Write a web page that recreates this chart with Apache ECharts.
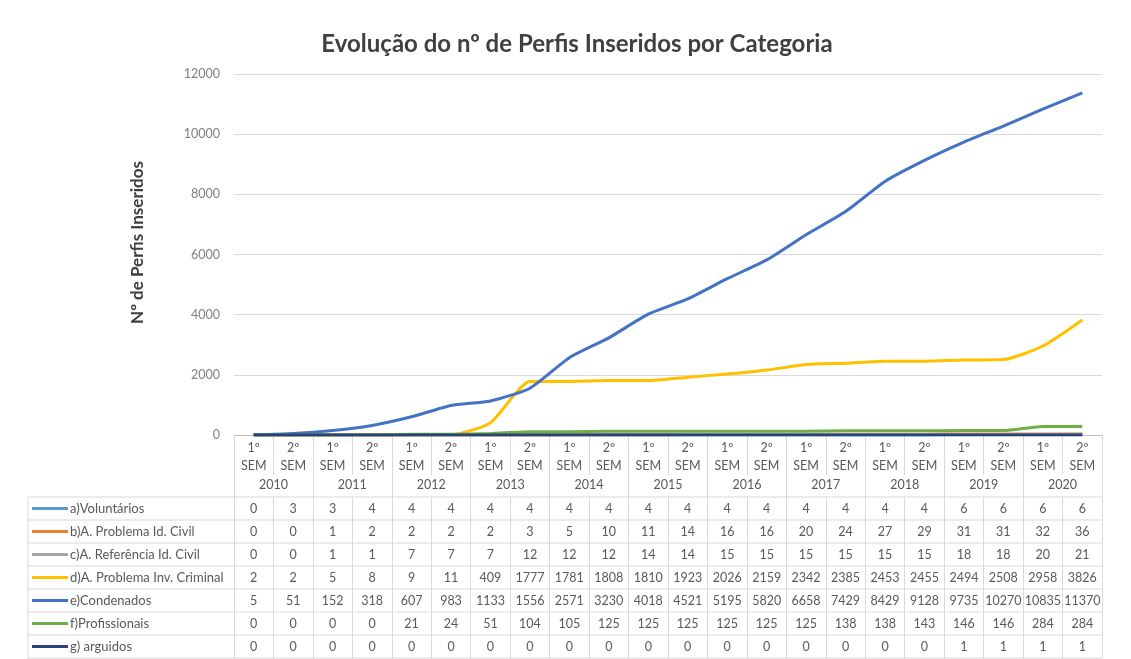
<!DOCTYPE html>
<html><head><meta charset="utf-8">
<script src="https://cdn.jsdelivr.net/npm/echarts@6/dist/echarts.min.js"></script>
<style>html,body{margin:0;padding:0;background:#fff}#c{width:1131px;height:659px}</style>
</head><body><div id="c"></div>
<script>
const years = ['2010','2011','2012','2013','2014','2015','2016','2017','2018','2019','2020'];
const semLabels = ['1º\nSEM','2º\nSEM'];
const categories = years.flatMap(y => [y + '-1', y + '-2']);
const yTicks = { min: 0, max: 12000, interval: 2000 };

const seriesNames = ['a)Voluntários','b)A. Problema Id. Civil','c)A. Referência Id. Civil','d)A. Problema Inv. Criminal','e)Condenados','f)Profissionais','g) arguidos'];
const voluntarios = [0,3,3,4,4,4,4,4,4,4,4,4,4,4,4,4,4,4,6,6,6,6];
const probIdCivil = [0,0,1,2,2,2,2,3,5,10,11,14,16,16,20,24,27,29,31,31,32,36];
const refIdCivil = [0,0,1,1,7,7,7,12,12,12,14,14,15,15,15,15,15,15,18,18,20,21];
const probInvCriminal = [2,2,5,8,9,11,409,1777,1781,1808,1810,1923,2026,2159,2342,2385,2453,2455,2494,2508,2958,3826];
const condenados = [5,51,152,318,607,983,1133,1556,2571,3230,4018,4521,5195,5820,6658,7429,8429,9128,9735,10270,10835,11370];
const profissionais = [0,0,0,0,21,24,51,104,105,125,125,125,125,125,125,138,138,143,146,146,284,284];
const arguidos = [0,0,0,0,0,0,0,0,0,0,0,0,0,0,0,0,0,0,1,1,1,1];
const allSeries = [voluntarios, probIdCivil, refIdCivil, probInvCriminal, condenados, profissionais, arguidos];
const colors = ['#5B9BD5','#ED7D31','#A5A5A5','#FFC000','#4472C4','#70AD47','#264478'];

const FONT = 'Lato';
const TXT = '#595959';
const LINE = '#D9D9D9';
const FS = 12.5;
const GRID = { left: 234, right: 29, top: 74, bottom: 224 };
const ROW_H = 23;
const TABLE_TOP_OFF = 62;

const xAxes = [
  { type: 'category', data: categories, gridIndex: 0, position: 'bottom', boundaryGap: true,
    axisLine: { show: true, lineStyle: { color: '#BFBFBF', width: 1 } },
    axisTick: { show: true, interval: 0, length: 40, lineStyle: { color: LINE } },
    axisLabel: { interval: 0, margin: 4, color: TXT, fontFamily: FONT, fontSize: FS, lineHeight: 18,
      formatter: (v, i) => semLabels[i % 2] } },
  { type: 'category', data: years, gridIndex: 0, position: 'bottom', offset: 40, boundaryGap: true,
    axisLine: { show: false },
    axisTick: { show: true, interval: 0, length: 22, lineStyle: { color: LINE } },
    axisLabel: { interval: 0, margin: 3, color: TXT, fontFamily: FONT, fontSize: FS } }
];
allSeries.forEach((vals, k) => {
  xAxes.push({ type: 'category', data: categories, gridIndex: 0, position: 'bottom',
    offset: TABLE_TOP_OFF + ROW_H * k, boundaryGap: true,
    axisLine: { show: false },
    axisTick: { show: true, interval: 0, length: ROW_H, lineStyle: { color: LINE } },
    axisLabel: { interval: 0, margin: 5, color: TXT, fontFamily: FONT, fontSize: FS,
      formatter: (v, i) => String(vals[i]) } });
});

const chart = echarts.init(document.getElementById('c'), null, { renderer: 'canvas' });
const gridBottomY = 659 - GRID.bottom;
const tableTop = gridBottomY + TABLE_TOP_OFF;
const graphics = [];
for (let k = 0; k <= allSeries.length; k++) {
  graphics.push({ type: 'line', silent: true, z: 0,
    shape: { x1: 28, y1: tableTop + ROW_H * k, x2: 1131 - GRID.right, y2: tableTop + ROW_H * k },
    style: { stroke: LINE, lineWidth: 1 } });
}
graphics.push({ type: 'line', silent: true, shape: { x1: 28, y1: tableTop, x2: 28, y2: 659 }, style: { stroke: LINE, lineWidth: 1 } });
seriesNames.forEach((name, k) => {
  const cy = tableTop + ROW_H * k + ROW_H / 2;
  graphics.push({ type: 'line', silent: true, shape: { x1: 32, y1: cy, x2: 68, y2: cy },
    style: { stroke: colors[k], lineWidth: 3 } });
  graphics.push({ type: 'text', silent: true, x: 70, y: cy,
    style: { text: name, fill: TXT, font: '13px ' + FONT, textVerticalAlign: 'middle', textAlign: 'left' } });
});

chart.setOption({
  animation: false,
  color: colors,
  title: { text: 'Evolução do nº de Perfis Inseridos por Categoria', left: 572, top: 27, textAlign: 'center',
    textStyle: { fontFamily: FONT, fontSize: 24, fontWeight: 'bold', color: '#404040' } },
  grid: GRID,
  xAxis: xAxes,
  yAxis: { type: 'value', min: yTicks.min, max: yTicks.max, interval: yTicks.interval,
    name: 'Nº de Perfis Inseridos', nameLocation: 'middle', nameGap: 88, nameRotate: 90,
    nameTextStyle: { fontFamily: FONT, fontSize: 17, fontWeight: 'bold', color: '#404040', padding: [0,0,0,24] },
    axisLine: { show: false }, axisTick: { show: false },
    axisLabel: { margin: 14, color: '#808080', fontFamily: FONT, fontSize: 12.5, formatter: v => String(v) },
    splitLine: { lineStyle: { color: LINE } } },
  graphic: graphics,
  series: allSeries.map((vals, k) => ({
    name: seriesNames[k], type: 'line', xAxisIndex: 0, yAxisIndex: 0, data: vals, smooth: 0.2,
    showSymbol: false, symbol: 'none', lineStyle: { width: 3, color: colors[k] }, itemStyle: { color: colors[k] }
  }))
});
</script></body></html>
